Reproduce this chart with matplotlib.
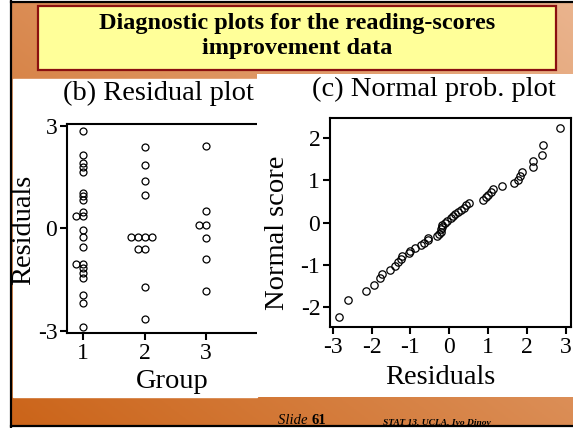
import matplotlib
matplotlib.use('Agg')
import matplotlib.pyplot as plt
import numpy as np
from matplotlib.patches import Rectangle

plt.rcParams['font.family'] = ['Liberation Serif', 'DejaVu Serif']
plt.rcParams['axes.unicode_minus'] = False

W, H = 573, 428

# residuals by group
group1 = [2.86, 2.15, 1.91, 1.79, 1.66, 1.05, 0.95, 0.83, 0.49, 0.35, 0.35, -0.05,
          -0.24, -0.56, -1.04, -1.04, -1.17, -1.32, -1.47, -1.96, -2.18, -2.88]
group2 = [2.39, 1.87, 1.39, 0.98, -0.25, -0.25, -0.25, -0.25, -0.62, -0.62, -1.71, -2.67]
group3 = [2.41, 0.51, 0.10, 0.10, -0.29, -0.91, -1.83]
groups = [group1, group2, group3]

# panel (c): sorted residuals and their normal scores
resid_sorted = [-2.83, -2.61, -2.14, -1.93, -1.79, -1.72, -1.53, -1.40, -1.33, -1.25,
                -1.22, -1.05, -1.02, -0.89, -0.72, -0.64, -0.56, -0.55, -0.31, -0.26,
                -0.22, -0.21, -0.20, -0.19, -0.10, -0.05, 0.05, 0.10, 0.14, 0.22,
                0.31, 0.37, 0.44, 0.50, 0.86, 0.95, 1.00, 1.06, 1.12, 1.36,
                1.67, 1.76, 1.83, 1.86, 2.14, 2.16, 2.38, 2.40, 2.84]
nscore = [-2.24, -1.83, -1.61, -1.47, -1.32, -1.22, -1.11, -1.02, -0.94, -0.86,
          -0.79, -0.72, -0.66, -0.60, -0.53, -0.47, -0.42, -0.36, -0.31, -0.26,
          -0.21, -0.15, -0.10, -0.05, 0.0, 0.05, 0.10, 0.15, 0.21, 0.26,
          0.31, 0.36, 0.42, 0.47, 0.53, 0.60, 0.66, 0.72, 0.79, 0.86,
          0.93, 1.02, 1.11, 1.21, 1.31, 1.46, 1.60, 1.83, 2.25]

title_lines = ['Diagnostic plots for the reading-scores', 'improvement data']


def frac(x0, y0, x1, y1):
    return [x0 / W, 1 - y1 / H, (x1 - x0) / W, (y1 - y0) / H]


fig = plt.figure(figsize=(W / 100, H / 100), dpi=100)

# slide background
bg = fig.add_axes([0, 0, 1, 1])
bg.set_xlim(0, W)
bg.set_ylim(H, 0)
bg.axis('off')
u, v = np.meshgrid(np.linspace(0, 1, 200), np.linspace(1, 0, 150))
t = (u + v) / 2
c0 = np.array([203, 100, 25]) / 255
c1 = np.array([234, 180, 142]) / 255
grad = c0 + (c1 - c0) * t[..., None]
bg.imshow(grad, extent=(11, W, 426, 1), aspect='auto', zorder=0)
bg.add_patch(Rectangle((13, 79), 257 - 13, 397 - 79, color='white', zorder=1))
bg.plot([11, 11], [0, H], color='black', lw=1.6, zorder=5)
bg.plot([11, W], [1.5, 1.5], color='black', lw=1.6, zorder=5)
bg.plot([11, W], [426, 426], color='black', lw=1.6, zorder=5)

bg.add_patch(Rectangle((38, 6), 556 - 38, 70 - 6, facecolor='#ffff99',
                       edgecolor='#8b1010', lw=1.6, zorder=2))
bg.text(297, 23, title_lines[0], ha='center', va='center', fontsize=17.5,
        fontweight='bold', zorder=3)
bg.text(297, 48, title_lines[1], ha='center', va='center', fontsize=17.5,
        fontweight='bold', zorder=3)

bg.text(311, 424, 'Slide ', ha='right', va='baseline', fontsize=10.5,
        style='italic', zorder=3)
bg.text(311, 424, '61', ha='left', va='baseline', fontsize=10.5,
        fontweight='bold', zorder=3)
bg.text(383, 424, 'STAT 13, UCLA, Ivo Dinov', ha='left', va='baseline',
        fontsize=6.8, style='italic', fontweight='bold', zorder=3)

bg.text(158, 93, '(b) Residual plot', ha='center', va='center', fontsize=20.5)

# panel (b): residuals vs group
ax1 = fig.add_axes(frac(67, 124, 277, 333))
ax1.set_zorder(1)
step = 7 / 61.5
for g, vals in enumerate(groups, start=1):
    xs = []
    for i, val in enumerate(vals):
        k = vals.count(val)
        j = vals[:i].count(val)
        xs.append(g + (j - k // 2) * step)
    ax1.plot(xs, vals, 'o', ms=5, mfc='none', mec='black', mew=0.9)
ax1.set_xlim(0.74, 4.15)
ax1.set_ylim(-3.07, 3.06)
ax1.set_xticks([1, 2, 3])
ax1.set_yticks([-3, 0, 3])
ax1.spines['right'].set_visible(False)
for s in ax1.spines.values():
    s.set_linewidth(1.5)
ax1.tick_params(direction='out', length=5, width=1.5, labelsize=17, pad=2)
fig.text(24 / W, 1 - 230 / H, 'Residuals', rotation=90, ha='center',
         va='center', fontsize=20.5)
fig.text(172 / W, 1 - 381 / H, 'Group', ha='center', va='center', fontsize=20.5)

# white panel holding (c)
cover = fig.add_axes(frac(257, 74, W, 397))
cover.set_zorder(2)
cover.set_facecolor('white')
cover.set_xticks([])
cover.set_yticks([])
for s in cover.spines.values():
    s.set_visible(False)
cover.text((434 - 257) / (W - 257), 1 - (89 - 74) / (397 - 74),
           '(c) Normal prob. plot', transform=cover.transAxes,
           ha='center', va='center', fontsize=20.5)
cover.text((277 - 257) / (W - 257), 1 - (233 - 74) / (397 - 74),
           'Normal score', transform=cover.transAxes, rotation=90,
           ha='center', va='center', fontsize=20.5)
cover.text((440 - 257) / (W - 257), 1 - (377 - 74) / (397 - 74),
           'Residuals', transform=cover.transAxes,
           ha='center', va='center', fontsize=20.5)

# panel (c): normal probability plot
ax2 = fig.add_axes(frac(330, 118, 571, 327))
ax2.set_zorder(3)
ax2.plot(resid_sorted, nscore, 'o', ms=5.3, mfc='none', mec='black', mew=0.9)
ax2.set_xlim(-3.07, 3.13)
ax2.set_ylim(-2.47, 2.48)
ax2.set_xticks(range(-3, 4))
ax2.set_yticks(range(-2, 3))
for s in ax2.spines.values():
    s.set_linewidth(1.5)
ax2.tick_params(direction='out', length=5, width=1.5, labelsize=17, pad=2)

fig.savefig('out.png', dpi=100)
